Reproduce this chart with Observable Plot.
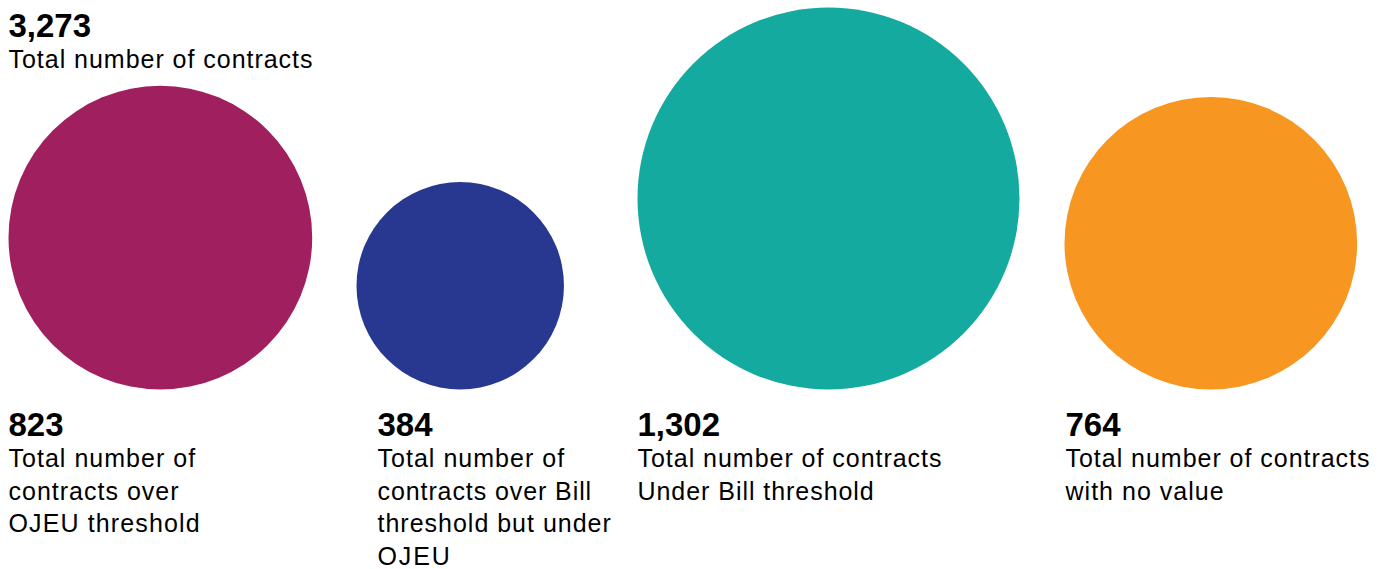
<!DOCTYPE html>
<html>
<head>
<meta charset="utf-8">
<script src="https://cdn.jsdelivr.net/npm/d3@7"></script>
<script src="https://cdn.jsdelivr.net/npm/@observablehq/plot@0.6"></script>
<style>
  html, body { margin: 0; padding: 0; background: #fff; }
  #chart svg { display: block; }
</style>
</head>
<body>
<div id="chart"></div>
<script>
// ---- data ----
const totalContracts = 3273;
const totalLabel = "Total number of contracts";
const categories = ["Over OJEU", "Over Bill, under OJEU", "Under Bill", "No value"];
const counts = [823, 384, 1302, 764];
const descriptions = [
  "Total number of\ncontracts over\nOJEU threshold",
  "Total number of\ncontracts over Bill\nthreshold but under\nOJEU",
  "Total number of contracts\nUnder Bill threshold",
  "Total number of contracts\nwith no value"
];
const colors = ["#A01F5E", "#283890", "#14AAA0", "#F79620"];

// ---- layout (not data) ----
const W = 1388, H = 569;
const circleLeft = [8, 356, 637, 1064];
const labelLeft = [8, 377, 637, 1065];
const baseY = 389;
const rMax = 191;
const rPx = d3.scaleSqrt().domain([0, d3.max(counts)]).range([0, rMax]);
const fmt = d3.format(",");

const numSize = 33, bodySize = 25, lineH = 32.5;
const targetLabelWidth = 304; // width of "Total number of contracts" in the reference

const rows = categories.map((c, i) => ({
  category: c,
  count: counts[i],
  desc: descriptions[i],
  color: colors[i],
  cx: circleLeft[i] + rPx(counts[i]),
  cy: baseY - rPx(counts[i]),
  lx: labelLeft[i]
}));

const font = "'Liberation Sans', Arial, sans-serif";
const chart = Plot.plot({
  width: W,
  height: H,
  margin: 0,
  style: { fontFamily: font, background: "#fff" },
  x: { type: "identity", axis: null },
  y: { type: "identity", axis: null },
  r: { type: "sqrt", domain: [0, d3.max(counts)], range: [0, rMax] },
  color: { type: "identity" },
  marks: [
    Plot.dot(rows, { x: "cx", y: "cy", r: "count", fill: "color", stroke: null }),
    Plot.text(rows, {
      x: "lx", y: 435 - 0.71 * numSize, text: d => fmt(d.count),
      textAnchor: "start", lineAnchor: "top", fontSize: numSize, fontWeight: "bold", fill: "#000"
    }),
    Plot.text(rows, {
      x: "lx", y: 467 - 0.71 * lineH, text: "desc",
      textAnchor: "start", lineAnchor: "top", fontSize: bodySize, lineHeight: lineH / bodySize, fill: "#000"
    }),
    Plot.text([totalContracts], {
      x: 8, y: 36 - 0.71 * numSize, text: d => fmt(d),
      textAnchor: "start", lineAnchor: "top", fontSize: numSize, fontWeight: "bold", fill: "#000"
    }),
    Plot.text([totalLabel], {
      x: 8, y: 67 - 0.71 * bodySize, text: d => d,
      textAnchor: "start", lineAnchor: "top", fontSize: bodySize, fill: "#000"
    })
  ]
});
document.getElementById("chart").appendChild(chart);

// widen body text to match the reference's wider typeface (via textLength)
const bodyTexts = Array.from(chart.querySelectorAll("text")).filter(t => {
  const g = t.closest("g");
  return g && String(g.getAttribute("font-size")) === String(bodySize);
});
const labelEl = bodyTexts.find(t => t.textContent === totalLabel);
let factor = 1;
try {
  const len = labelEl ? labelEl.getComputedTextLength() : 0;
  if (len > 0) factor = targetLabelWidth / len;
} catch (e) {}
function stretch(el) {
  const len = el.getComputedTextLength();
  if (len > 0) {
    el.setAttribute("textLength", (len * factor).toFixed(2));
    el.setAttribute("lengthAdjust", "spacing");
  }
}
if (factor !== 1) {
  bodyTexts.forEach(t => {
    const spans = t.querySelectorAll("tspan");
    if (spans.length) spans.forEach(stretch); else stretch(t);
  });
}
</script>
</body>
</html>
